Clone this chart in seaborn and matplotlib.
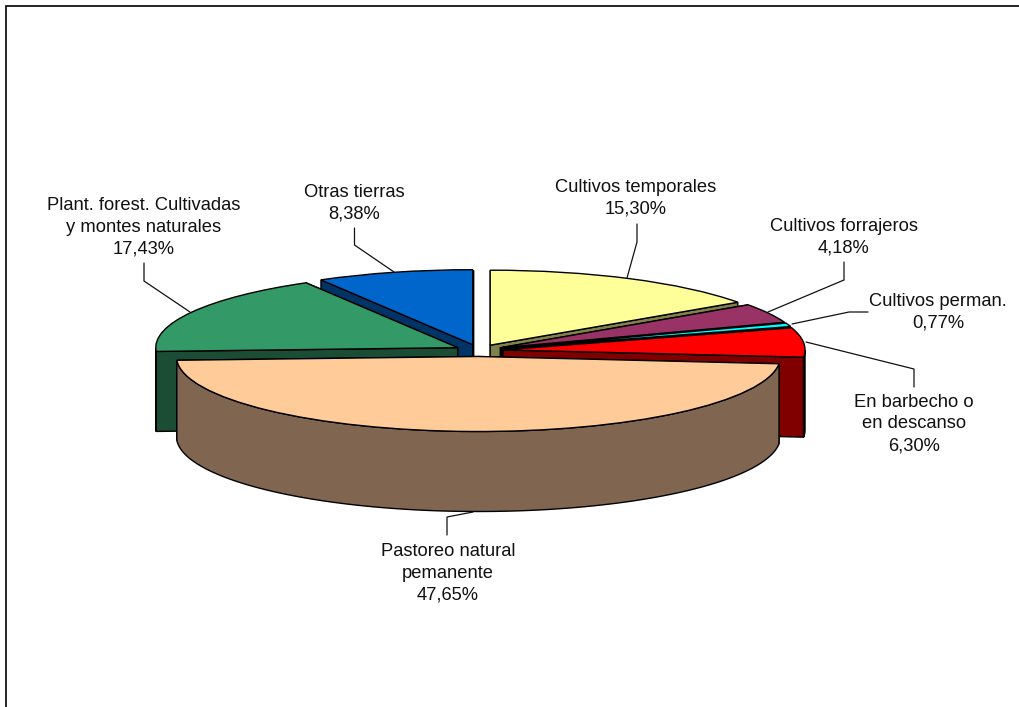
import numpy as np
import matplotlib
matplotlib.use("Agg")
import matplotlib.pyplot as plt
import seaborn as sns

sns.set_theme(style="white")
plt.rcParams['font.family'] = ['Liberation Sans', 'DejaVu Sans']

# ---- data ----
categories = ["Cultivos temporales", "Cultivos forrajeros", "Cultivos perman.",
              "En barbecho o\nen descanso", "Pastoreo natural\npemanente",
              "Plant. forest. Cultivadas\ny montes naturales", "Otras tierras"]
values = [15.30, 4.18, 0.77, 6.30, 47.65, 17.43, 8.38]
value_labels = ["15,30%", "4,18%", "0,77%", "6,30%", "47,65%", "17,43%", "8,38%"]
top_colors = ["#FFFF99", "#993366", "#00FFFF", "#FF0000", "#FFCC99", "#339966", "#0066CC"]
wall_colors = ["#80804D", "#4D1A33", "#008080", "#800000", "#806650", "#1A4D33", "#003366"]
label_pos = [(636, 198.5), (844, 237.5), (938, 312), (914, 424), (448, 573), (144, 227), (354, 203)]
leaders = [[(627, 278), (637, 242), (637, 224)],
           [(768, 312), (844, 280), (844, 262)],
           [(792, 324), (849, 312), (868, 312)],
           [(806, 342), (914, 369), (914, 387)],
           [(473, 512), (447, 517), (447, 535)],
           [(190, 312), (144, 281), (144, 263)],
           [(394, 272), (354.5, 245), (354.5, 228)]]
draw_order = [6, 0, 1, 2, 3, 5, 4]

# ---- pixel geometry of the projected pie ----
W, H = 1019, 707
CX, CY, RX, RY, DEPTH = 479.0, 350.5, 302.0, 75.0, 80.0
EXPLODE = 0.08
LW = 1.0

fig = plt.figure(figsize=(W / 100, H / 100), dpi=100, facecolor="white")
ax = fig.add_axes([0, 0, 1, 1])

def px(x, y):
    return (x - CX) / RX, (CY - y) / RY

d = DEPTH / RY
total = sum(values)
wedges, _ = ax.pie(values, colors=top_colors, startangle=90, counterclock=False,
                   explode=[EXPLODE] * len(values), radius=1.0,
                   wedgeprops=dict(edgecolor="black", linewidth=LW), frame=False)
ax.set_aspect("auto")
ax.set_xlim(-CX / RX, (W - CX) / RX)
ax.set_ylim((CY - H) / RY, CY / RY)

ang = 90.0
for i, v in enumerate(values):
    sweep = v / total * 360.0
    a0, a1 = ang - sweep, ang
    ang = a0
    wedges[i].set_zorder(10 + 2 * draw_order.index(i) + 1)
    mid = np.radians((a0 + a1) / 2)
    ox, oy = EXPLODE * np.cos(mid), EXPLODE * np.sin(mid)
    z = 10 + 2 * draw_order.index(i)
    # back radial wall first, front radial wall over it
    for a in sorted((a0, a1), key=lambda q: -np.sin(np.radians(q))):
        r = np.radians(a)
        ex, ey = ox + np.cos(r), oy + np.sin(r)
        ax.fill([ox, ex, ex, ox], [oy, ey, ey - d, oy - d], facecolor=wall_colors[i],
                edgecolor="black", linewidth=LW, zorder=z)
    # outer wall: only the part of the arc on the front half
    ts = np.linspace(a0, a1, 200)
    ts = ts[np.sin(np.radians(ts)) <= 0]
    if len(ts) > 1:
        r = np.radians(ts)
        xs, ys = ox + np.cos(r), oy + np.sin(r)
        ax.fill(np.r_[xs, xs[::-1]], np.r_[ys, ys[::-1] - d], facecolor=wall_colors[i],
                edgecolor="black", linewidth=LW, zorder=z)

for pts in leaders:
    p = np.array([px(*q) for q in pts])
    ax.plot(p[:, 0], p[:, 1], color="#111111", lw=0.9, zorder=40, solid_joinstyle="miter")

for name, val, pos in zip(categories, value_labels, label_pos):
    x, y = px(*pos)
    ax.text(x, y, f"{name}\n{val}", ha="center", va="center", fontsize=13.2,
            color="#111111", linespacing=1.36, zorder=50)

# chart-area frame: only its left and top edges fall inside the picture
ax.plot(*zip(px(6, H + 5), px(6, 6), px(W + 5, 6)), color="black", lw=1.2,
        zorder=60, solid_joinstyle="miter")
ax.axis("off")
fig.savefig("out.png", dpi=100, facecolor="white")
